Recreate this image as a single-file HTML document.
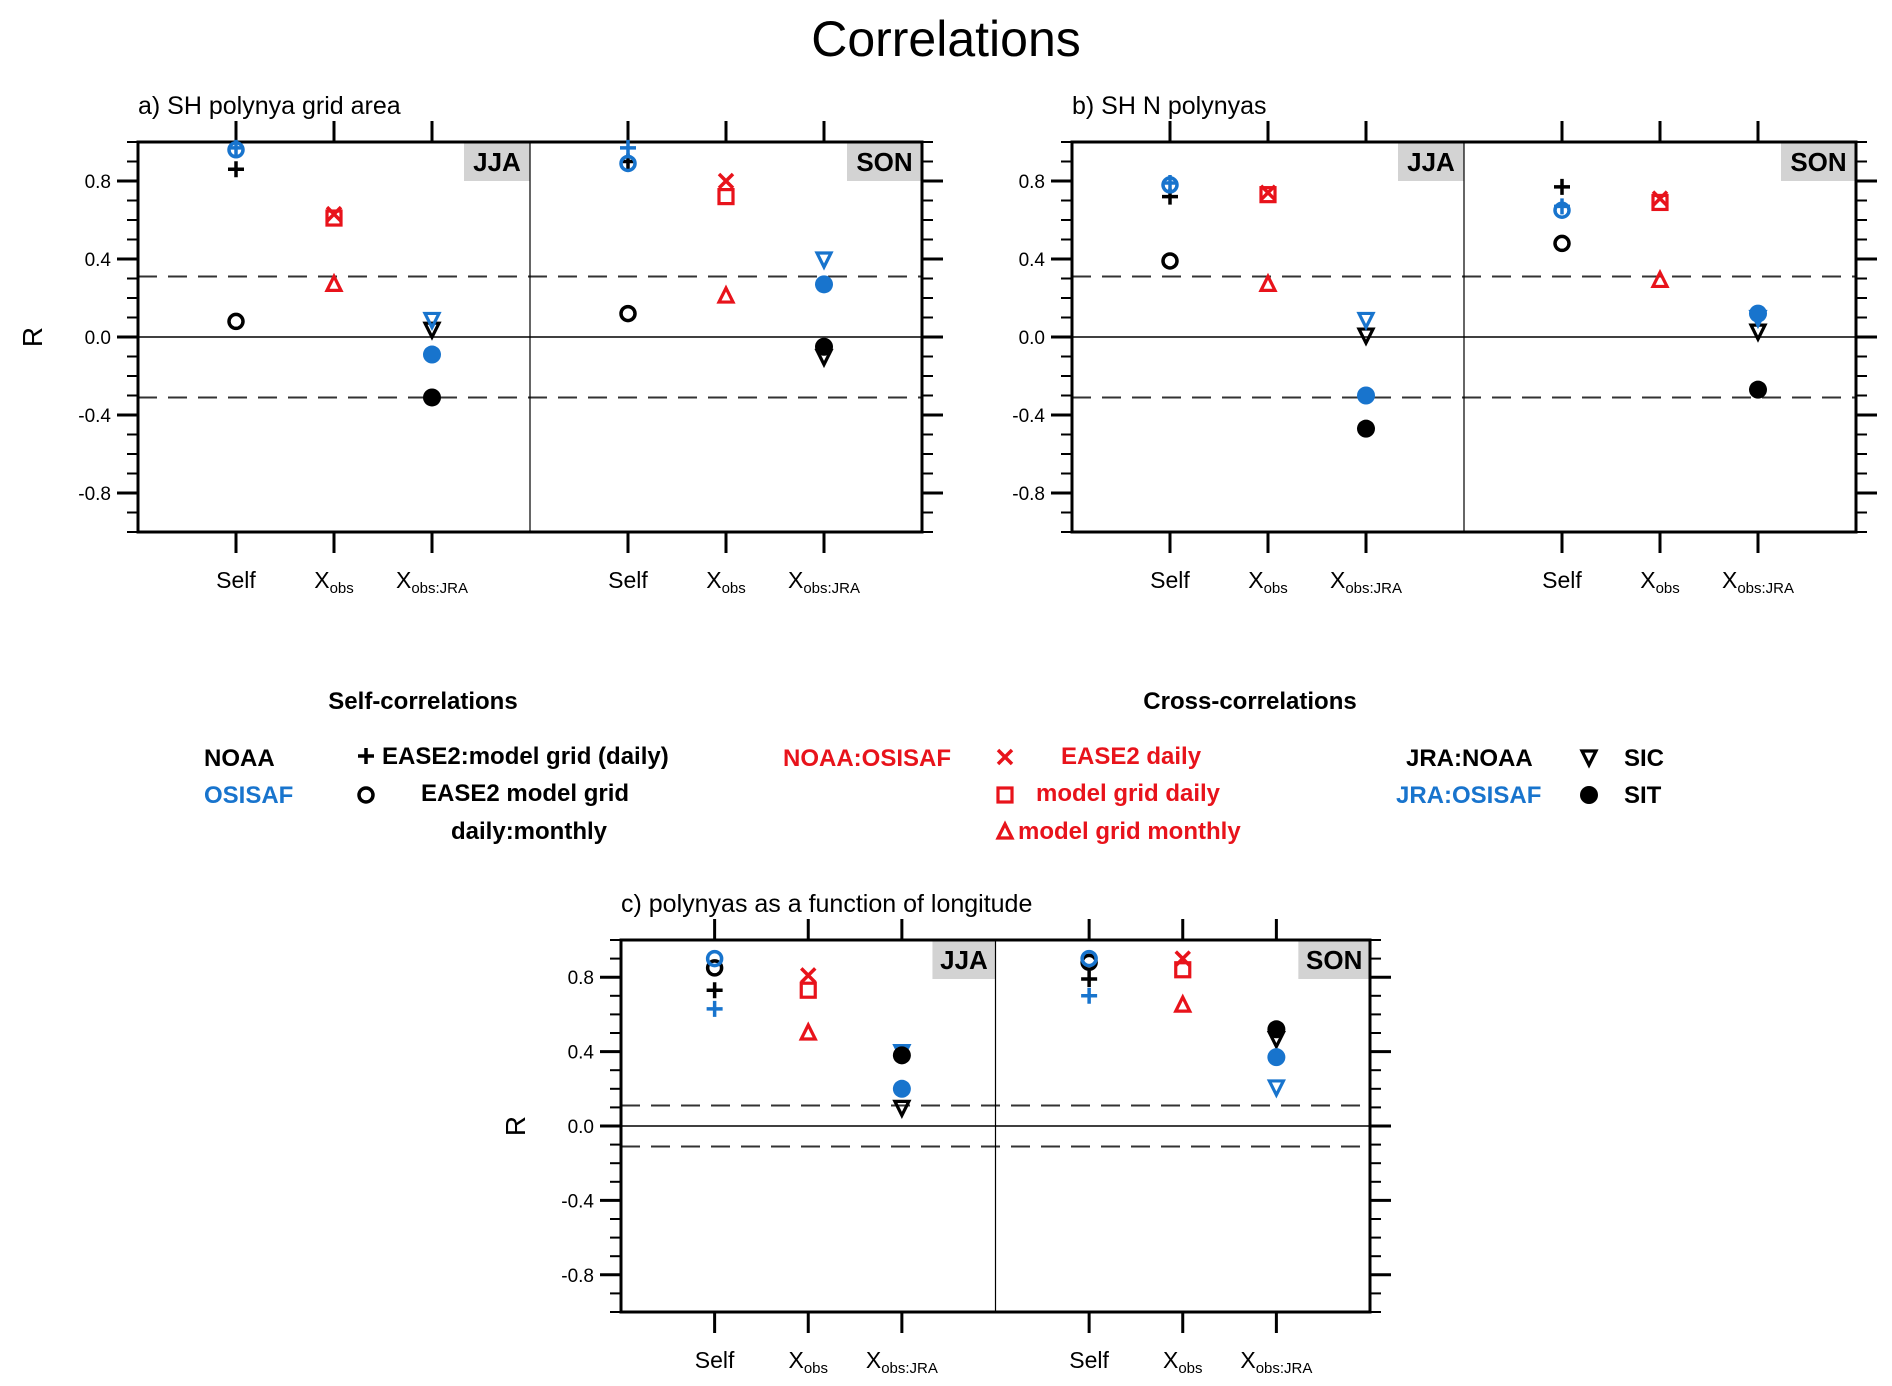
<!DOCTYPE html>
<html><head><meta charset="utf-8">
<style>
html,body{margin:0;padding:0;background:#fff;}
svg{display:block;font-family:"Liberation Sans",sans-serif;}
</style></head>
<body>
<svg id="fig" width="1892" height="1386" viewBox="0 0 1892 1386" xmlns="http://www.w3.org/2000/svg">
<text x="946" y="56" font-size="50" text-anchor="middle">Correlations</text>
<g id="panels"></g>
<g id="legend" font-size="24" font-weight="bold">
  <text x="423" y="709" text-anchor="middle">Self-correlations</text>
  <text x="1250" y="709" text-anchor="middle">Cross-correlations</text>
  <text x="204" y="766">NOAA</text>
  <text x="204" y="803" fill="#1874cd">OSISAF</text>
  <text x="382" y="764">EASE2:model grid (daily)</text>
  <text x="421" y="801">EASE2  model grid</text>
  <text x="451" y="839">daily:monthly</text>
  <text x="783" y="766" fill="#e8131b">NOAA:OSISAF</text>
  <text x="1061" y="764" fill="#e8131b">EASE2 daily</text>
  <text x="1036" y="801" fill="#e8131b">model grid daily</text>
  <text x="1018" y="839" fill="#e8131b">model grid monthly</text>
  <text x="1406" y="766">JRA:NOAA</text>
  <text x="1396" y="803" fill="#1874cd">JRA:OSISAF</text>
  <text x="1624" y="766">SIC</text>
  <text x="1624" y="803">SIT</text>
  <g id="legmarks"></g>
</g>
</svg>
<script>
// ---- data ----
const categories = ["Self", "Xobs", "XobsJRA"];
const seasons = ["JJA", "SON"];
const seriesNames = ["noaa-plus","osisaf-plus","noaa-circle","osisaf-circle","red-x","red-square","red-triangle","noaa-sic","osisaf-sic","noaa-sit","osisaf-sit"];
const seriesCategory = [0,0,0,0,1,1,1,2,2,2,2];
const seriesShape = ["plus","plus","circle","circle","x","square","tri","tridown","tridown","dot","dot"];
const seriesColor = ["#000","#1874cd","#000","#1874cd","#e8131b","#e8131b","#e8131b","#000","#1874cd","#000","#1874cd"];
const panelA_JJA = [0.86,0.97,0.08,0.96,0.63,0.61,0.27,0.04,0.09,-0.31,-0.09];
const panelA_SON = [0.90,0.97,0.12,0.89,0.80,0.72,0.21,-0.10,0.40,-0.05,0.27];
const panelB_JJA = [0.72,0.79,0.39,0.78,0.74,0.73,0.27,0.01,0.09,-0.47,-0.30];
const panelB_SON = [0.77,0.67,0.48,0.65,0.71,0.69,0.29,0.03,0.10,-0.27,0.12];
const panelC_JJA = [0.73,0.63,0.85,0.90,0.81,0.73,0.50,0.10,0.40,0.38,0.20];
const panelC_SON = [0.79,0.70,0.88,0.90,0.90,0.84,0.65,0.47,0.21,0.52,0.37];
const sigA = 0.31, sigB = 0.31, sigC = 0.11;
const yTicks = [0.8,0.4,0.0,-0.4,-0.8];
const yTickLabels = ["0.8","0.4","0.0","-0.4","-0.8"];

// ---- layout ----
const panels = [
  {id:"a", title:"a) SH polynya grid area", x0:138, x1:922, y0:142, y1:532, data:[panelA_JJA,panelA_SON], sig:sigA, R:true},
  {id:"b", title:"b) SH N polynyas", x0:1072, x1:1856, y0:142, y1:532, data:[panelB_JJA,panelB_SON], sig:sigB, R:false},
  {id:"c", title:"c) polynyas as a function of longitude", x0:621, x1:1370, y0:940, y1:1312, data:[panelC_JJA,panelC_SON], sig:sigC, R:true}
];
const NS="http://www.w3.org/2000/svg";
function mk(tag, attrs, parent){const e=document.createElementNS(NS,tag);for(const k in attrs)e.setAttribute(k,attrs[k]);if(parent)parent.appendChild(e);return e;}

function marker(g, shape, cx, cy, col){
  let e;
  if(shape==="plus"){e=mk("path",{d:`M${cx-8},${cy}H${cx+8}M${cx},${cy-8}V${cy+8}`,stroke:col,"stroke-width":3.5,fill:"none"},g);}
  else if(shape==="circle"){e=mk("circle",{cx:cx,cy:cy,r:7,stroke:col,"stroke-width":3.5,fill:"none"},g);}
  else if(shape==="x"){e=mk("path",{d:`M${cx-7},${cy-7}L${cx+7},${cy+7}M${cx+7},${cy-7}L${cx-7},${cy+7}`,stroke:col,"stroke-width":3.5,fill:"none"},g);}
  else if(shape==="square"){e=mk("rect",{x:cx-7,y:cy-7,width:14,height:14,stroke:col,"stroke-width":3.2,fill:"none"},g);}
  else if(shape==="tri"){e=mk("path",{d:`M${cx},${cy-8}L${cx+7},${cy+6}L${cx-7},${cy+6}Z`,stroke:col,"stroke-width":3.2,fill:"none"},g);}
  else if(shape==="tridown"){e=mk("path",{d:`M${cx-7},${cy-6}L${cx+7},${cy-6}L${cx},${cy+8}Z`,stroke:col,"stroke-width":3.2,fill:"none"},g);}
  else {e=mk("circle",{cx:cx,cy:cy,r:9,fill:col},g);}
  return e;
}

const root=document.getElementById("panels");
panels.forEach(p=>{
  const g=mk("g",{},root);
  
  
  const xs=v=>p.x0+(p.x1-p.x0)*v/8;
  const ys=v=>p.y0+(p.y1-p.y0)*(1-v)/2;
  const t=mk("text",{x:p.x0,y:p.y0-28,"font-size":25},g);t.textContent=p.title;
  
  
  ["JJA","SON"].forEach((b,i)=>{
    const w = i===0?(p.x1-p.x0)*66/784:(p.x1-p.x0)*75/784;
    const bx = i===0?xs(4)-w:p.x1-w;
    const r=mk("rect",{x:bx,y:p.y0,width:w,height:39,fill:"#d3d3d3"},g);
    
    
    const tt=mk("text",{x:bx+w/2,y:p.y0+29,"font-size":26,"font-weight":"bold","text-anchor":"middle"},g);tt.textContent=b;
    
    
  });
  mk("line",{x1:p.x0,x2:p.x1,y1:ys(0),y2:ys(0),stroke:"#000","stroke-width":1.5},g);
  [p.sig,-p.sig].forEach(s=>{
    const l=mk("line",{x1:p.x0,x2:p.x1,y1:ys(s),y2:ys(s),stroke:"#333","stroke-width":2,"stroke-dasharray":"19,11"},g);
    
    
  });
  mk("line",{x1:xs(4),x2:xs(4),y1:p.y0,y2:p.y1,stroke:"#000","stroke-width":1.2},g);
  const fr=mk("rect",{x:p.x0,y:p.y0,width:p.x1-p.x0,height:p.y1-p.y0,fill:"none",stroke:"#000","stroke-width":3},g);
  
  
  for(let k=-10;k<=10;k++){
    const v=k/10, y=ys(v), major=(k%4===0)&&Math.abs(k)<10;
    const len=major?21:11;
    mk("line",{x1:p.x0-len,x2:p.x0,y1:y,y2:y,stroke:"#000","stroke-width":major?3:2},g);
    mk("line",{x1:p.x1,x2:p.x1+len,y1:y,y2:y,stroke:"#000","stroke-width":major?3:2},g);
  }
  yTicks.forEach((v,i)=>{
    const tl=mk("text",{x:p.x0-27,y:ys(v)+7,"font-size":19,"text-anchor":"end"},g);tl.textContent=yTickLabels[i];
    
    
  });
  if(p.R){
    const rt=mk("text",{x:0,y:0,"font-size":28,"text-anchor":"middle",transform:`translate(${p.x0-96},${ys(0)}) rotate(-90)`},g);rt.textContent="R";
    
    
  }
  seasons.forEach((s,si)=>{
    categories.forEach((c,ci)=>{
      const x=xs(1+ci+si*4);
      mk("line",{x1:x,x2:x,y1:p.y0-21,y2:p.y0,stroke:"#000","stroke-width":3},g);
      mk("line",{x1:x,x2:x,y1:p.y1,y2:p.y1+21,stroke:"#000","stroke-width":3},g);
      const lt=mk("text",{x:x,y:p.y1+56,"font-size":23,"text-anchor":"middle"},g);
      
      
      if(c==="Self"){lt.textContent="Self";}
      else{
        const t1=mk("tspan",{},lt);t1.textContent="X";
        const t2=mk("tspan",{"font-size":15,dy:5});t2.textContent=c==="Xobs"?"obs":"obs:JRA";lt.appendChild(t2);
      }
    });
    const vals=p.data[si];
    seriesNames.forEach((n,k)=>{
      const x=xs(1+seriesCategory[k]+si*4);
      const m=marker(g,seriesShape[k],x,ys(vals[k]),seriesColor[k]);
      
      
    });
  });
});
const lm=document.getElementById("legmarks");
[["plus",366,756,"#000"],["circle",366,795,"#000"],["x",1005,757,"#e8131b"],["square",1005,795,"#e8131b"],["tri",1005,832,"#e8131b"],["tridown",1589,757,"#000"],["dot",1589,795,"#000"]].forEach(a=>{
  const m=marker(lm,a[0],a[1],a[2],a[3]);
  
  
});
</script>
</body></html>
